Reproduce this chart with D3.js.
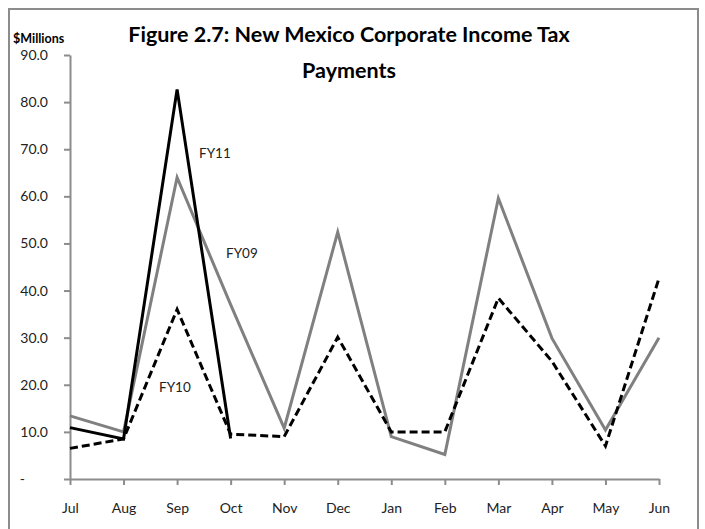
<!DOCTYPE html>
<html>
<head>
<meta charset="utf-8">
<script src="https://cdn.jsdelivr.net/npm/d3@7"></script>
<style>
  html, body { margin: 0; padding: 0; background: #fff; }
  svg { display: block; }
</style>
</head>
<body>
<svg id="chart" width="705" height="529"></svg>
<script>
// Monthly corporate income tax payments, $ millions (fiscal year Jul–Jun)
const months = ["Jul","Aug","Sep","Oct","Nov","Dec","Jan","Feb","Mar","Apr","May","Jun"];
const fy09 = [13.4, 10.0, 64.0, 37.0, 10.8, 52.4, 9.0, 5.2, 59.6, 29.9, 10.4, 30.0];
const fy10 = [6.5, 8.5, 36.0, 9.5, 9.0, 30.1, 10.0, 10.0, 38.4, 25.0, 7.0, 42.6];
const fy11 = [10.9, 8.5, 82.7, 8.6];
const yTicks = [0, 10, 20, 30, 40, 50, 60, 70, 80, 90];

const svg = d3.select("#chart");
const font = "Lato, 'Open Sans', sans-serif";

// chart frame
svg.append("rect")
  .attr("x", 9).attr("y", 9).attr("width", 689).attr("height", 540)
  .attr("fill", "#fff").attr("stroke", "#8c8c8c").attr("stroke-width", 2);

const x = d3.scalePoint().domain(months).range([70, 659]);
const y = d3.scaleLinear().domain([0, 90]).range([479, 55]);

// y axis
const yAxis = svg.append("g")
  .attr("transform", "translate(70,0)")
  .call(d3.axisLeft(y).tickValues(yTicks).tickSize(6).tickSizeOuter(0)
    .tickFormat(d => d === 0 ? "-" : d.toFixed(1)));
yAxis.select(".domain").attr("stroke", "#8c8c8c").attr("stroke-width", 2);
yAxis.selectAll(".tick line").attr("stroke", "#8c8c8c").attr("stroke-width", 2);
yAxis.selectAll(".tick text")
  .attr("x", -22).attr("fill", "#222")
  .style("font-family", font).style("font-size", "14px");
yAxis.selectAll(".tick text").filter(d => d === 0).attr("x", -45);

// x axis
const xAxis = svg.append("g")
  .attr("transform", "translate(0,479)")
  .call(d3.axisBottom(x).tickSize(6).tickSizeOuter(0));
xAxis.select(".domain").attr("stroke", "#8c8c8c").attr("stroke-width", 2);
xAxis.selectAll(".tick line").attr("stroke", "#8c8c8c").attr("stroke-width", 2);
xAxis.selectAll(".tick text")
  .attr("y", 24).attr("fill", "#222")
  .style("font-family", font).style("font-size", "14px");

// series lines
const line = d3.line().x((d, i) => x(months[i])).y(d => y(d));

svg.append("path").datum(fy09)
  .attr("d", line).attr("fill", "none")
  .attr("stroke", "#808080").attr("stroke-width", 3).attr("stroke-linejoin", "miter");

svg.append("path").datum(fy10)
  .attr("d", line).attr("fill", "none")
  .attr("stroke", "#000").attr("stroke-width", 3).attr("stroke-dasharray", "8,4");

svg.append("path").datum(fy11)
  .attr("d", line).attr("fill", "none")
  .attr("stroke", "#000").attr("stroke-width", 3).attr("stroke-linejoin", "miter");

// series labels
const labels = [
  { text: "FY11", x: 199, y: 158 },
  { text: "FY09", x: 226, y: 258 },
  { text: "FY10", x: 159, y: 392 }
];
svg.selectAll(".series-label").data(labels).join("text")
  .attr("class", "series-label")
  .attr("x", d => d.x).attr("y", d => d.y)
  .attr("fill", "#222")
  .style("font-family", font).style("font-size", "13.5px")
  .text(d => d.text);

// title and unit label
svg.append("text")
  .attr("x", 349).attr("y", 42).attr("text-anchor", "middle")
  .style("font-family", font).style("font-weight", "bold").style("font-size", "21.5px")
  .text("Figure 2.7: New Mexico Corporate Income Tax");
svg.append("text")
  .attr("x", 349).attr("y", 78).attr("text-anchor", "middle")
  .style("font-family", font).style("font-weight", "bold").style("font-size", "21.5px")
  .text("Payments");
svg.append("text")
  .attr("x", 13).attr("y", 43)
  .style("font-family", font).style("font-weight", "bold").style("font-size", "12.5px")
  .text("$Millions");
</script>
</body>
</html>
